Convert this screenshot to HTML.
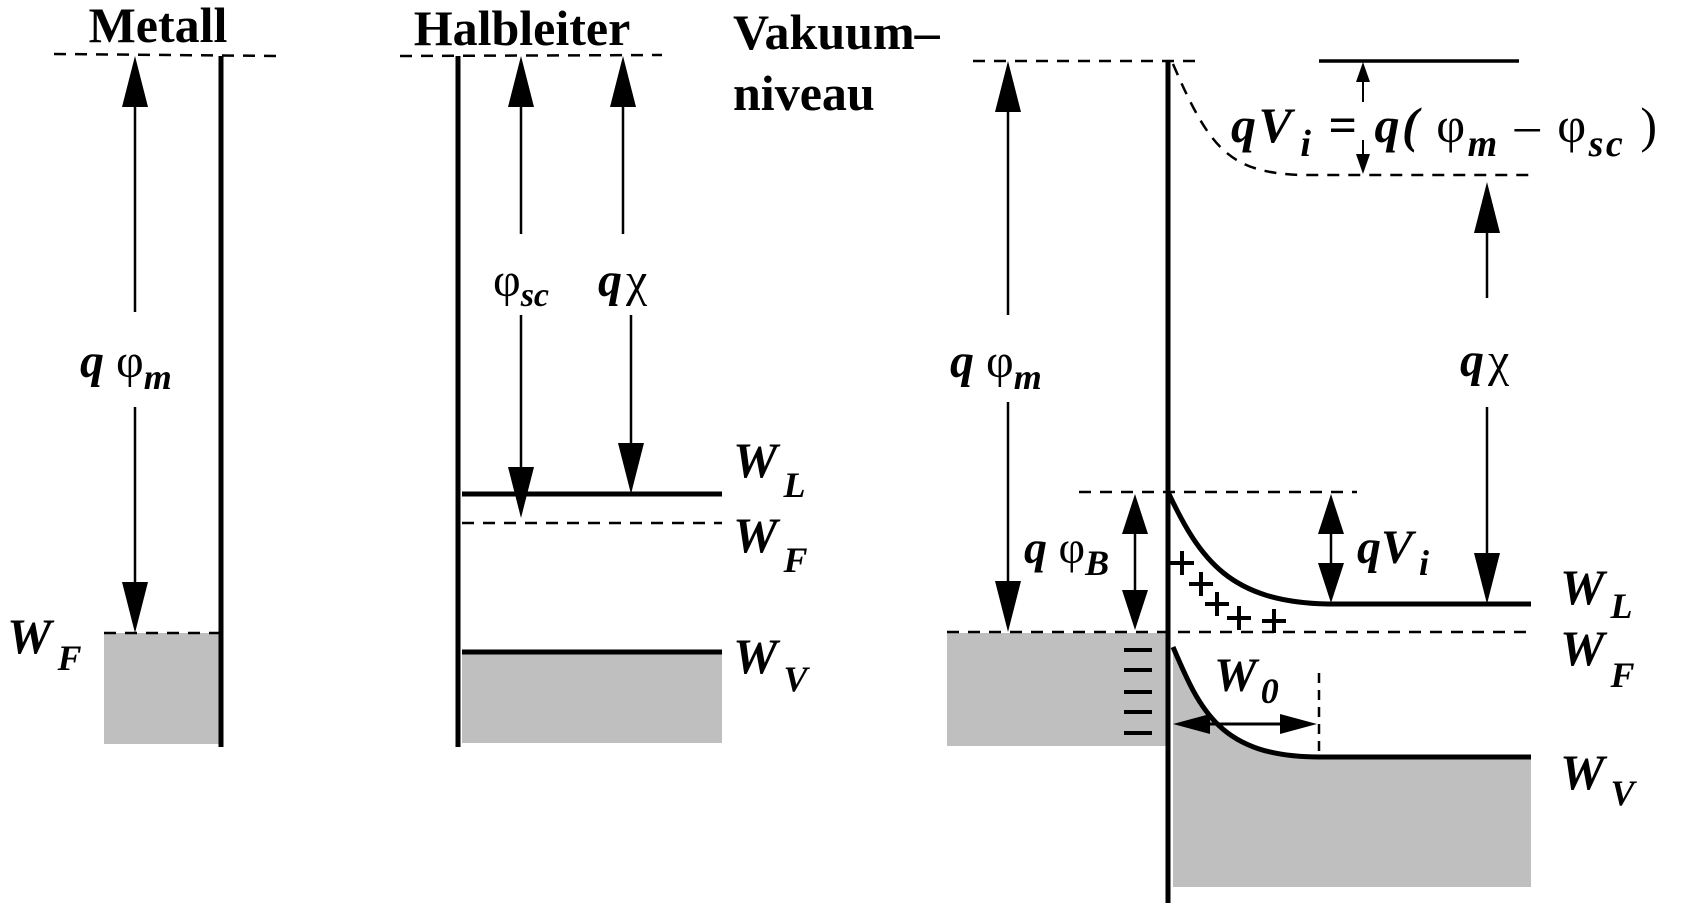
<!DOCTYPE html>
<html><head><meta charset="utf-8"><style>
html,body{margin:0;padding:0;background:#fff;}
svg{display:block;}
.b{font-family:"Liberation Serif",serif;font-weight:bold;}
.i{font-family:"Liberation Serif",serif;font-weight:bold;font-style:italic;}
.g{font-family:"Liberation Serif",serif;}
</style></head><body>
<svg width="1690" height="906" viewBox="0 0 1690 906" xmlns="http://www.w3.org/2000/svg">
<g fill="#bfbfbf" stroke="none">
<rect x="104" y="633" width="117" height="111"/>
<rect x="462" y="652" width="260" height="91"/>
<rect x="947" y="633" width="221" height="113"/>
<path d="M1173,647 C1200,710 1220,757 1319,757 L1531,757 L1531,887 L1173,887 Z"/>
</g>
<g stroke="#000" fill="none">
<line x1="221" y1="56" x2="221" y2="747" stroke-width="5"/>
<line x1="54" y1="54" x2="280" y2="56" stroke-width="2.5" stroke-dasharray="12,9"/>
<line x1="104" y1="633" x2="221" y2="633" stroke-width="2.5" stroke-dasharray="12,9"/>
<line x1="135" y1="100" x2="135" y2="312" stroke-width="2.5"/>
<line x1="135" y1="407" x2="135" y2="590" stroke-width="2.5"/>
<line x1="458" y1="56" x2="458" y2="747" stroke-width="5"/>
<line x1="400" y1="56" x2="662" y2="55" stroke-width="2.5" stroke-dasharray="12,9"/>
<line x1="462" y1="494" x2="722" y2="494" stroke-width="5"/>
<line x1="462" y1="523" x2="722" y2="523" stroke-width="2.5" stroke-dasharray="12,9"/>
<line x1="462" y1="652" x2="722" y2="652" stroke-width="5"/>
<line x1="521" y1="100" x2="521" y2="234" stroke-width="2.5"/>
<line x1="521" y1="315" x2="521" y2="480" stroke-width="2.5"/>
<line x1="623" y1="100" x2="623" y2="234" stroke-width="2.5"/>
<line x1="631" y1="315" x2="631" y2="450" stroke-width="2.5"/>
<line x1="1168" y1="61" x2="1168" y2="903" stroke-width="5"/>
<line x1="973" y1="61" x2="1201" y2="61" stroke-width="2.5" stroke-dasharray="12,9"/>
<path d="M1173,64 C1210,150 1230,172 1300,175 L1535,175" stroke-width="2.5" stroke-dasharray="12,9"/>
<line x1="1319" y1="61" x2="1519" y2="61" stroke-width="3.5"/>
<line x1="1079" y1="492" x2="1357" y2="492" stroke-width="2.5" stroke-dasharray="12,9"/>
<line x1="947" y1="632" x2="1531" y2="632" stroke-width="2.5" stroke-dasharray="12,9"/>
<path d="M1168,492 C1200,560 1230,602 1328,604 L1531,604" stroke-width="5"/>
<path d="M1173,647 C1200,710 1220,757 1319,757 L1531,757" stroke-width="5"/>
<line x1="1319" y1="673" x2="1319" y2="757" stroke-width="2.5" stroke-dasharray="10,7"/>
<line x1="1363" y1="66" x2="1363" y2="102" stroke-width="2"/>
<line x1="1363" y1="140" x2="1363" y2="170" stroke-width="2"/>
<line x1="1487" y1="230" x2="1487" y2="298" stroke-width="2.5"/>
<line x1="1487" y1="407" x2="1487" y2="560" stroke-width="2.5"/>
<line x1="1008" y1="100" x2="1008" y2="315" stroke-width="2.5"/>
<line x1="1008" y1="402" x2="1008" y2="590" stroke-width="2.5"/>
<line x1="1135" y1="520" x2="1135" y2="605" stroke-width="2.5"/>
<line x1="1331" y1="520" x2="1331" y2="580" stroke-width="2.5"/>
<line x1="1190" y1="724" x2="1300" y2="724" stroke-width="3"/>
<g stroke-width="4">
<line x1="1124" y1="650" x2="1152" y2="650"/><line x1="1124" y1="670" x2="1152" y2="670"/>
<line x1="1124" y1="692" x2="1152" y2="692"/><line x1="1124" y1="712" x2="1152" y2="712"/>
<line x1="1124" y1="733" x2="1152" y2="733"/>
</g>
<g stroke-width="4">
<path d="M1170,563h24M1182,551v24"/>
<path d="M1189,584h24M1201,572v24"/>
<path d="M1205,604h24M1217,592v24"/>
<path d="M1227,618h24M1239,606v24"/>
<path d="M1262,621h24M1274,609v24"/>
</g>
</g>
<g fill="#000" stroke="none">
<polygon points="135,56 122,107 148,107"/><polygon points="135,633 122,582 148,582"/>
<polygon points="521,56 508,107 534,107"/><polygon points="521,518 508,467 534,467"/>
<polygon points="623,56 610,107 636,107"/><polygon points="631,494 618,443 644,443"/>
<polygon points="1008,61 995,112 1021,112"/><polygon points="1008,632 995,581 1021,581"/>
<polygon points="1487,182 1474,233 1500,233"/><polygon points="1487,604 1474,553 1500,553"/>
<polygon points="1135,494 1122,534 1148,534"/><polygon points="1135,630 1122,590 1148,590"/>
<polygon points="1331,494 1318,534 1344,534"/><polygon points="1331,603 1318,563 1344,563"/>
<polygon points="1363,62 1356,82 1370,82"/><polygon points="1363,174 1356,154 1370,154"/>
<polygon points="1173,724 1210,714 1210,734"/><polygon points="1317,724 1280,714 1280,734"/>
</g>
<g fill="#000">
<text x="158" y="42" class="b" font-size="50" text-anchor="middle">Metall</text>
<text x="522" y="45" class="b" font-size="50" text-anchor="middle">Halbleiter</text>
<text x="733" y="49" class="b" font-size="50">Vakuum–</text>
<text x="733" y="110" class="b" font-size="50">niveau</text>
<text x="80" y="377" class="i" font-size="48">q <tspan class="g" font-style="normal" font-weight="normal">φ</tspan><tspan font-size="36" dy="12">m</tspan></text>
<text x="7" y="653" class="i" font-size="50">W<tspan font-size="36" dx="6" dy="17">F</tspan></text>
<text x="493" y="296" class="g" font-size="48">φ<tspan class="i" font-size="34" dy="10">sc</tspan></text>
<text x="598" y="296" class="i" font-size="48">q<tspan class="g" font-style="normal" font-weight="normal" dx="4">χ</tspan></text>
<text x="733" y="477" class="i" font-size="50">W<tspan font-size="36" dx="6" dy="20">L</tspan></text>
<text x="733" y="552" class="i" font-size="50">W<tspan font-size="36" dx="6" dy="20">F</tspan></text>
<text x="733" y="673" class="i" font-size="50">W<tspan font-size="36" dx="6" dy="18">V</tspan></text>
<text x="1231" y="142" class="i" font-size="50" textLength="426" lengthAdjust="spacing">qV<tspan font-size="38" dx="6" dy="14">i</tspan><tspan dy="-14" font-style="normal"> = </tspan>q( <tspan class="g" font-style="normal" font-weight="normal">φ</tspan><tspan font-size="38" dy="14">m</tspan><tspan dy="-14" font-style="normal" font-weight="normal">  –  </tspan><tspan class="g" font-style="normal" font-weight="normal">φ</tspan><tspan font-size="38" dy="14">sc</tspan><tspan dy="-14" font-style="normal" font-weight="normal"> )</tspan></text>
<text x="1460" y="376" class="i" font-size="48">q<tspan class="g" font-style="normal" font-weight="normal" dx="4">χ</tspan></text>
<text x="950" y="377" class="i" font-size="48">q <tspan class="g" font-style="normal" font-weight="normal">φ</tspan><tspan font-size="36" dy="12">m</tspan></text>
<text x="1024" y="563" class="i" font-size="46">q <tspan class="g" font-style="normal" font-weight="normal">φ</tspan><tspan font-size="36" dy="12">B</tspan></text>
<text x="1357" y="563" class="i" font-size="48">qV<tspan font-size="36" dx="6" dy="12">i</tspan></text>
<text x="1214" y="691" class="i" font-size="48">W<tspan font-size="36" dx="4" dy="12">0</tspan></text>
<text x="1560" y="604" class="i" font-size="50">W<tspan font-size="36" dx="6" dy="14">L</tspan></text>
<text x="1560" y="665" class="i" font-size="50">W<tspan font-size="36" dx="6" dy="22">F</tspan></text>
<text x="1560" y="789" class="i" font-size="50">W<tspan font-size="36" dx="6" dy="16">V</tspan></text>
</g>
</svg>
</body></html>
